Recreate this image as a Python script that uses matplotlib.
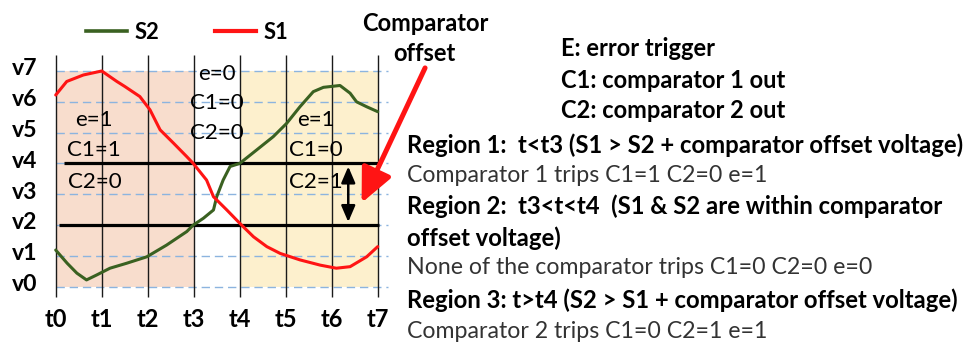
import matplotlib
matplotlib.use("Agg")
import matplotlib.pyplot as plt
from matplotlib.font_manager import FontProperties
from matplotlib.lines import Line2D
import matplotlib.transforms as mtransforms

# ---------------- data ----------------
t_ticks = [0, 1, 2, 3, 4, 5, 6, 7]
t_labels = ["t0", "t1", "t2", "t3", "t4", "t5", "t6", "t7"]
v_ticks = [0, 1, 2, 3, 4, 5, 6, 7]
v_labels = ["v0", "v1", "v2", "v3", "v4", "v5", "v6", "v7"]

t_s1 = [0, 0.24, 0.6, 1.0, 1.33, 1.5, 1.83, 2.05, 2.27, 2.56, 2.85, 2.99, 3.28,
        3.43, 3.72, 4.0, 4.3, 4.59, 4.88, 5.31, 5.75, 6.1, 6.4, 6.76, 7.0]
v_s1 = [6.22, 6.66, 6.87, 7.0, 6.66, 6.5, 6.17, 5.74, 5.09, 4.66, 4.22, 4.0, 3.46,
        2.92, 2.49, 2.06, 1.62, 1.30, 1.08, 0.87, 0.70, 0.60, 0.65, 0.97, 1.30]

t_s2 = [0, 0.25, 0.46, 0.67, 0.89, 1.18, 1.54, 1.98, 2.41, 2.85, 2.99, 3.21, 3.43,
        3.5, 3.64, 3.79, 4.0, 4.37, 4.73, 5.02, 5.31, 5.6, 5.82, 6.0, 6.18, 6.4,
        6.54, 6.76, 7.0]
v_s2 = [1.19, 0.76, 0.44, 0.22, 0.38, 0.60, 0.76, 0.97, 1.35, 1.79, 2.0, 2.22, 2.49,
        2.92, 3.46, 3.9, 4.0, 4.44, 4.87, 5.3, 5.84, 6.33, 6.47, 6.5, 6.53, 6.28,
        6.0, 5.84, 5.68]

region1 = (0, 3)
region3 = (4, 7)
threshold_hi = 4
threshold_lo = 2

region1_labels = ["e=1", "C1=1", "C2=0"]
region2_labels = ["e=0", "C1=0", "C2=0"]
region3_labels = ["e=1", "C1=0", "C2=1"]

header_lines = ["E: error trigger", "C1: comparator 1 out", "C2: comparator 2 out"]
body_lines = [
    ("Region 1:  t<t3 (S1 > S2 + comparator offset voltage)", "bold"),
    ("Comparator 1 trips C1=1 C2=0 e=1", "normal"),
    ("Region 2:  t3<t<t4  (S1 & S2 are within comparator", "bold"),
    ("offset voltage)", "bold"),
    ("None of the comparator trips C1=0 C2=0 e=0", "normal"),
    ("Region 3: t>t4 (S2 > S1 + comparator offset voltage)", "bold"),
    ("Comparator 2 trips C1=0 C2=1 e=1", "normal"),
]

# ---------------- figure ----------------
W, H = 979, 344
fig = plt.figure(figsize=(W / 100, H / 100), dpi=100)
renderer = fig.canvas.get_renderer()
FAM = "Lato"


def fit(s, width_px, weight="normal"):
    fp = FontProperties(family=FAM, weight=weight, size=10)
    w, h, d = renderer.get_text_width_height_descent(s, fp, ismath=False)
    return 10 * width_px / w


def fx(px):
    return px / W


def fy(py):
    return 1 - py / H


# axes in pixel geometry: t0 at x=55.7, t7 at x=377.7, v0 at y=286.7, v7 at y=71
ax = fig.add_axes([fx(55.7), fy(286.7), fx(377.7) - fx(55.7), fy(71) - fy(286.7)])
ax.set_xlim(0, 7)
ax.set_ylim(0, 7)
for sp in ax.spines.values():
    sp.set_visible(False)

# shaded regions
ax.fill_between(region1, 0, 7, color="#f8ddcd", lw=0, zorder=0)
ax.fill_between(region3, 0, 7, color="#fdf0cd", lw=0, zorder=0)

# dashed horizontal grid
ax.hlines(v_ticks, 0, 7.22, colors="#8cb4df", linestyles=(0, (6, 3.5)), lw=1.0,
          clip_on=False, zorder=1)
# vertical lines
ax.vlines(t_ticks, -0.33, 7.52, colors="#1a1a1a", lw=1.0, clip_on=False, zorder=2)

# threshold lines
ax.plot([0.18, 7.0], [threshold_hi, threshold_hi], color="black", lw=2.3,
        clip_on=False, zorder=3, solid_capstyle="butt")
ax.plot([0.07, 7.03], [threshold_lo, threshold_lo], color="black", lw=2.3,
        clip_on=False, zorder=3, solid_capstyle="butt")

# signals
ax.plot(t_s2, v_s2, color="#3a6121", lw=2.2, zorder=4, clip_on=False,
        solid_joinstyle="round", solid_capstyle="round")
ax.plot(t_s1, v_s1, color="#ff1414", lw=2.2, zorder=4, clip_on=False,
        solid_joinstyle="round", solid_capstyle="round")

# ticks
xs = fit("t0", 22.5, "bold")
ys = fit("v7", 25.5, "bold")
ax.set_xticks(t_ticks)
ax.set_xticklabels(t_labels, fontfamily=FAM, fontweight="bold", fontsize=xs)
ax.set_yticks(v_ticks)
ax.set_yticklabels(v_labels, fontfamily=FAM, fontweight="bold", fontsize=ys)
ax.tick_params(axis="both", length=0)
ax.tick_params(axis="x", pad=15)
ax.tick_params(axis="y", pad=13)
off = mtransforms.ScaledTranslation(0, 3 / 72, fig.dpi_scale_trans)
for lab in ax.get_yticklabels():
    lab.set_transform(lab.get_transform() + off)

# in-plot labels
ls = fit("C1=1", 50, "normal") * 1.08
ypos = [5.41, 4.45, 3.41]
for s, y in zip(region1_labels, ypos):
    ax.text(0.84, y, s, ha="center", va="center", fontsize=ls, fontfamily=FAM, zorder=5)
for s, y in zip(region3_labels, ypos):
    ax.text(5.65, y, s, ha="center", va="center", fontsize=ls, fontfamily=FAM, zorder=5)
for s, y in zip(region2_labels, [6.9, 5.95, 4.98]):
    ax.text(3.5, y, s, ha="center", va="center", fontsize=ls, fontfamily=FAM, zorder=5)

# double arrow (comparator offset)
ax.annotate("", xy=(6.36, 2.1), xytext=(6.36, 3.9),
            arrowprops=dict(arrowstyle="<|-|>,head_length=0.7,head_width=0.3",
                            color="black", lw=1.8, mutation_scale=14,
                            shrinkA=0, shrinkB=0), zorder=6, annotation_clip=False)

# red arrow
ax.annotate("", xy=(6.65, 2.72), xytext=(8.03, 7.1),
            arrowprops=dict(arrowstyle="-|>,head_length=1.3,head_width=0.6",
                            color="#ff1414", lw=3.6, mutation_scale=16,
                            shrinkA=0, shrinkB=0), zorder=6, annotation_clip=False)

# legend
lgs = fit("S2", 25, "bold")
fpx = lgs * 100 / 72
handles = [Line2D([], [], color="#3a6121", lw=2.6), Line2D([], [], color="#ff1414", lw=3.0)]
fig.legend(handles, ["S2", "S1"], ncol=2, loc="center left",
           bbox_to_anchor=(fx(86), fy(32.5)), bbox_transform=fig.transFigure,
           frameon=False, borderpad=0, borderaxespad=0,
           handlelength=41 / fpx, handletextpad=8 / fpx, columnspacing=55 / fpx,
           prop=FontProperties(family=FAM, weight="bold", size=lgs))

# comparator offset label
cs = fit("Comparator", 127, "bold")
fig.text(fx(425), fy(23.3), "Comparator", ha="center", va="center",
         fontfamily=FAM, fontweight="bold", fontsize=cs)
fig.text(fx(424.4), fy(53.3), "offset", ha="center", va="center",
         fontfamily=FAM, fontweight="bold", fontsize=cs)

# right text block
bs = fit(body_lines[0][0], 558, "bold")
ns = fit(body_lines[1][0], 361, "normal")
hs = fit(header_lines[0], 154, "bold")
for s, y in zip(header_lines, [48.3, 80, 110]):
    fig.text(fx(560.7), fy(y), s, ha="left", va="center", fontfamily=FAM,
             fontweight="bold", fontsize=hs, color="black")
for (s, w), y in zip(body_lines, [145, 175.5, 206.7, 238, 268, 300, 332]):
    fig.text(fx(407), fy(y), s, ha="left", va="center", fontfamily=FAM,
             fontweight=w, fontsize=bs if w == "bold" else ns,
             color="black" if w == "bold" else "#333333")

fig.savefig("out.png", dpi=100)
